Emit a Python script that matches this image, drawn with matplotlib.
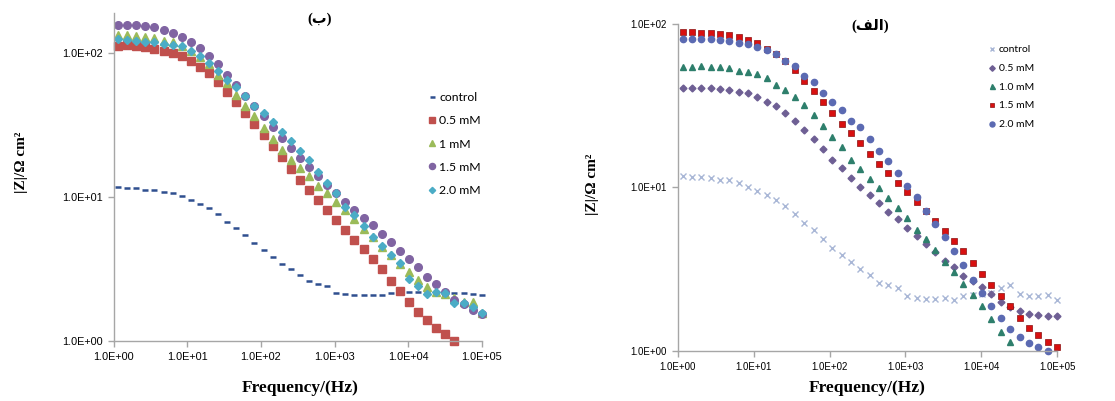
import numpy as np
import matplotlib
matplotlib.use("Agg")
import matplotlib.pyplot as plt
from matplotlib.ticker import FixedLocator, FuncFormatter, NullLocator

# frequency points (Hz), ~8 per decade
freq = [1.15, 1.53, 2.03, 2.70, 3.58, 4.76, 6.32, 8.40, 11.2, 14.8, 19.7,
        26.2, 34.8, 46.3, 61.5, 81.7, 109, 144, 192, 255, 339, 450, 598,
        795, 1057, 1404, 1866, 2480, 3296, 4380, 5821, 7735, 10280, 13661,
        18155, 24126, 32063, 42609, 56624, 75250, 100000]

# ---- panel (ب) ----
b_labels = ["control", "0.5 mM", "1 mM", "1.5 mM", "2.0 mM"]
b_control = [11.8, 11.6, 11.5, 11.2, 11.1, 10.9, 10.6, 10.2, 9.53, 8.94, 8.34,
             7.57, 6.73, 6.05, 5.41, 4.76, 4.27, 3.80, 3.42, 3.14, 2.88, 2.60,
             2.48, 2.40, 2.16, 2.11, 2.09, 2.09, 2.07, 2.07, 2.14, 2.16, 2.19,
             2.19, 2.19, 2.16, 2.14, 2.14, 2.14, 2.11, 2.07]
b_05 = [112, 114, 111, 110, 107, 103, 100, 95, 87.5, 80, 72, 62.5, 53.6, 46,
        38.2, 32.2, 27, 22.4, 18.9, 15.6, 13.1, 11.2, 9.53, 8.12, 6.92, 5.89,
        5.02, 4.32, 3.68, 3.14, 2.62, 2.22, 1.87, 1.59, 1.39, 1.22, 1.11, 1.0]
b_1 = [134, 134, 132, 129, 127, 122, 119, 112, 104, 94, 84, 70.7, 61.8, 51.3,
       43, 36.2, 30, 25.2, 21.2, 18.1, 15.8, 13.9, 12, 10.6, 9.29, 8.12, 7.0,
       5.96, 5.24, 4.51, 3.95, 3.42, 3.02, 2.64, 2.35, 2.19, 2.13, 1.97, 1.87,
       1.87, 1.55]
b_15 = [157, 157, 157, 153, 152, 144, 138, 129, 119, 108, 95.7, 83.8, 70.6,
        60.2, 50.5, 42.6, 36.3, 30.5, 25.6, 21.8, 18.6, 16.1, 13.9, 12.1, 10.6,
        9.29, 8.12, 7.11, 6.38, 5.53, 4.83, 4.23, 3.68, 3.24, 2.79, 2.48, 2.19,
        1.92, 1.80, 1.63, 1.53]
b_2 = [125, 124, 122, 120, 119, 116, 114, 111, 103, 94.8, 85, 74.5, 65.2, 58,
       49.9, 42.6, 38.2, 32.9, 28.2, 24.3, 20.7, 18.1, 15.0, 12.4, 10.6, 8.47,
       7.5, 6.28, 5.29, 4.56, 3.95, 3.45, 2.67, 2.4, 2.1, 2.19, 2.16, 1.82,
       1.82, 1.72, 1.55]

# ---- panel (الف) ----
a_labels = ["control", "0.5 mM", "1.0 mM", "1.5 mM", "2.0 mM"]
a_control = [11.7, 11.6, 11.6, 11.4, 11.1, 11.1, 10.7, 10.1, 9.54, 8.98, 8.36,
             7.69, 6.87, 6.08, 5.48, 4.81, 4.29, 3.85, 3.51, 3.15, 2.90, 2.61,
             2.52, 2.41, 2.16, 2.11, 2.09, 2.09, 2.12, 2.06, 2.16, 2.19, 2.24,
             2.27, 2.44, 2.52, 2.24, 2.16, 2.16, 2.19, 2.04]
a_05 = [40.9, 40.9, 40.9, 40.7, 39.8, 39.4, 38.5, 37.6, 35.9, 33.4, 31.5, 28.6,
        25.6, 22.4, 19.7, 17.1, 14.8, 13.1, 11.4, 10.0, 8.98, 7.98, 7.1, 6.37,
        5.66, 5.04, 4.48, 4.04, 3.56, 3.24, 2.86, 2.68, 2.46, 2.22, 2.0, 1.86,
        1.76, 1.69, 1.65, 1.63, 1.63]
a_1 = [54.8, 54.8, 55.3, 54.8, 54.8, 53.5, 51.8, 51.0, 49.4, 46.5, 42.3, 39.4,
       35.9, 31.9, 27.7, 23.7, 20.4, 17.6, 14.8, 12.9, 11.2, 9.86, 8.57, 7.44,
       6.46, 5.53, 4.81, 4.13, 3.51, 3.05, 2.58, 2.19, 1.88, 1.56, 1.31, 1.13]
a_15 = [89.8, 88.9, 88.5, 87.7, 86.9, 85.3, 82.9, 79.8, 76.1, 70, 65.5, 59.3,
        52.2, 45, 39.1, 33.4, 28.6, 24.6, 21.4, 18.6, 16.1, 14.0, 12.3, 10.7,
        9.4, 8.17, 7.16, 6.25, 5.43, 4.71, 4.09, 3.46, 2.97, 2.52, 2.16, 1.88,
        1.60, 1.39, 1.25, 1.13, 1.06]
a_2 = [80.5, 80.5, 80.8, 80.5, 79.8, 79.1, 76.9, 75.1, 72.6, 69.3, 65.5, 59.7,
       55.3, 48.1, 44.4, 37.6, 33.4, 30, 25.6, 23.3, 19.9, 16.8, 14.6, 12.2,
       10.2, 8.69, 7.16, 5.97, 4.99, 4.09, 3.35, 2.73, 2.27, 1.88, 1.58, 1.37,
       1.21, 1.12, 1.05, 1.0]

serif = ["Liberation Serif", "DejaVu Sans"]
tick_font = "Liberation Sans"
leg_font = "Lato"

fig = plt.figure(figsize=(11.15, 4.01), dpi=100)


def style_axes(ax, ymax, tick_size):
    ax.set_xscale("log")
    ax.set_yscale("log")
    ax.set_xlim(1, 1e5)
    ax.set_ylim(1, ymax)
    ax.xaxis.set_major_locator(FixedLocator([1e0, 1e1, 1e2, 1e3, 1e4, 1e5]))
    ax.yaxis.set_major_locator(FixedLocator([1e0, 1e1, 1e2]))
    ax.xaxis.set_minor_locator(NullLocator())
    ax.yaxis.set_minor_locator(NullLocator())
    fmt = FuncFormatter(lambda v, p: f"{v:.1E}")
    ax.xaxis.set_major_formatter(fmt)
    ax.yaxis.set_major_formatter(fmt)
    for s in ["top", "right"]:
        ax.spines[s].set_visible(False)
    for s in ["left", "bottom"]:
        ax.spines[s].set_color("#a6a6a6")
        ax.spines[s].set_linewidth(1.0)
    ax.tick_params(direction="out", length=4, width=1, color="#a6a6a6",
                   labelsize=tick_size, pad=4)
    for lab in ax.get_xticklabels() + ax.get_yticklabels():
        lab.set_family(tick_font)
    ax.patch.set_alpha(0)


# left panel (ب)
ax1 = fig.add_axes([0.102, 0.150, 0.330, 0.818])
ax1.plot(freq, b_control, ls="none", marker="_", ms=4.5, mew=1.8, color="#2f4f8f",
         label=b_labels[0], clip_on=False)
ax1.plot(freq[:len(b_05)], b_05, ls="none", marker="s", ms=5.5, color="#c0504d",
         label=b_labels[1], clip_on=False)
ax1.plot(freq, b_1, ls="none", marker="^", ms=5.5, color="#9bbb59",
         label=b_labels[2], clip_on=False)
ax1.plot(freq, b_15, ls="none", marker="o", ms=5.5, color="#8064a2",
         label=b_labels[3], clip_on=False)
ax1.plot(freq, b_2, ls="none", marker="D", ms=4, color="#4bacc6",
         label=b_labels[4], clip_on=False)
style_axes(ax1, 190, 7.8)
ax1.legend(loc="upper left", bbox_to_anchor=(422 / 1115, 1 - 86 / 401),
           bbox_transform=fig.transFigure, frameon=False, borderpad=0,
           handlelength=0.6, handletextpad=0.3, labelspacing=1.0,
           markerscale=0.8, prop={"family": leg_font, "size": 8.8})

# right panel (الف)
ax2 = fig.add_axes([0.608, 0.125, 0.340, 0.815])
ax2.plot(freq, a_control, ls="none", marker="x", ms=4, mew=1, color="#a9b7d6",
         label=a_labels[0], clip_on=False)
ax2.plot(freq, a_05, ls="none", marker="D", ms=3.5, color="#6e5f94",
         label=a_labels[1], clip_on=False)
ax2.plot(freq[:len(a_1)], a_1, ls="none", marker="^", ms=4.5, color="#2e7f6c",
         label=a_labels[2], clip_on=False)
ax2.plot(freq, a_15, ls="none", marker="s", ms=4.3, color="#d81010",
         mec="#8a1010", mew=0.5, label=a_labels[3], clip_on=False)
ax2.plot(freq[:len(a_2)], a_2, ls="none", marker="o", ms=4.5, color="#5b6ab2",
         label=a_labels[4], clip_on=False)
style_axes(ax2, 100, 7)
ax2.legend(loc="upper left", bbox_to_anchor=(984 / 1115, 1 - 40 / 401),
           bbox_transform=fig.transFigure, frameon=False, borderpad=0,
           handlelength=0.6, handletextpad=0.3, labelspacing=0.9,
           markerscale=0.8, prop={"family": leg_font, "size": 7.5})

# labels
fig.text(0.0197, 0.594, "|Z|/Ω cm²", rotation=90, ha="center", va="center",
         family=serif, weight="bold", fontsize=11)
fig.text(0.531, 0.541, "|Z|/Ω cm²", rotation=90, ha="center", va="center",
         family=serif, weight="bold", fontsize=11)
fig.text(0.269, 0.032, "Frequency/(Hz)", ha="center", va="center",
         family=serif, weight="bold", fontsize=12.5)
fig.text(0.778, 0.032, "Frequency/(Hz)", ha="center", va="center",
         family=serif, weight="bold", fontsize=12.5)

# panel titles (Arabic letters given in visual order, presentation forms)
fig.text(0.287, 0.952, "(\uFE8F)", ha="center", va="center",
         family=serif, weight="bold", fontsize=10.5)
fig.text(0.780, 0.936, "(\uFED2\uFEDF\uFE8D)", ha="center", va="center",
         family=serif, weight="bold", fontsize=10.5)

fig.savefig("out.png", dpi=100)
